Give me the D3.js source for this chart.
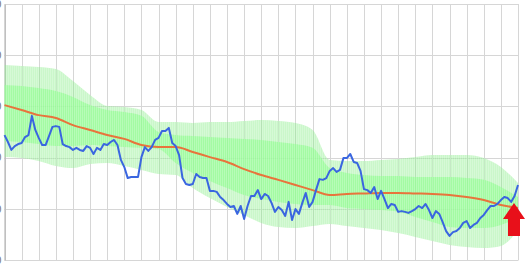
<!DOCTYPE html>
<html>
<head>
<meta charset="utf-8">
<script src="https://cdn.jsdelivr.net/npm/d3@7"></script>
<style>
  body { margin: 0; background: #fff; }
  svg { display: block; }
  .y-axis text { font-family: "DejaVu Sans", sans-serif; font-size: 10px; fill: #777; }
</style>
</head>
<body>
<div id="chart"></div>
<script>
// band knots every 10 days, price every 2 days
const bandDays = d3.range(0, 301, 10);
const center = [60.5, 58.6, 56.6, 55.5, 52.7, 50.8, 48.8, 47.3, 44.9, 44.1, 44.1, 42.2, 40.2, 38.3, 35.5, 33.2,
  31.3, 29.3, 27.3, 25.4, 25.8, 26.0, 26.2, 26.2, 26.0, 25.8, 25.4, 24.6, 23.4, 21.5, 20.3];
const outerHigh = [76.2, 75.8, 75.4, 74.6, 69.9, 64.5, 60.2, 59.8, 58.6, 53.9, 53.9, 53.5, 53.9, 53.9, 54.3, 54.7,
  54.3, 53.5, 50.8, 39.1, 38.7, 38.7, 39.1, 39.5, 40.2, 41.0, 41.0, 41.0, 39.8, 36.3, 30.1];
const innerHigh = [68.4, 68.0, 67.2, 66.0, 63.7, 60.5, 58.6, 57.8, 56.3, 50.0, 48.8, 48.4, 48.0, 47.7, 47.3, 46.9,
  46.1, 45.3, 43.8, 35.9, 34.0, 33.2, 32.8, 32.8, 32.4, 32.4, 32.4, 32.0, 31.3, 28.5, 24.6];
const innerLow = [46.5, 46.1, 45.3, 44.5, 44.5, 44.9, 44.5, 44.1, 43.8, 43.4, 37.9, 34.0, 30.9, 28.1, 25.4, 23.8,
  22.7, 21.9, 21.5, 21.5, 20.3, 19.9, 19.5, 18.8, 16.8, 14.8, 12.9, 12.5, 12.5, 13.7, 16.4];
const outerLow = [40.2, 39.8, 38.7, 36.7, 35.9, 37.5, 37.9, 36.7, 35.2, 33.6, 33.2, 28.1, 24.2, 20.7, 17.6, 14.5,
  12.9, 12.5, 13.3, 14.1, 13.3, 12.5, 11.7, 10.5, 9.0, 7.4, 5.9, 5.1, 4.7, 5.5, 11.7];

const priceDays = d3.range(0, 301, 2);
const price = [
  48.8, 46.1, 43.0, 44.5, 45.3, 45.7, 48.0, 48.8, 56.3, 50.8,
  47.7, 44.9, 44.9, 48.4, 52.0, 52.3, 52.0, 45.3, 44.5, 44.1,
  43.0, 43.8, 43.0, 42.6, 44.5, 43.8, 41.4, 43.8, 43.0, 45.3,
  44.9, 46.1, 46.9, 44.9, 39.1, 36.3, 32.0, 32.4, 32.4, 32.4,
  40.2, 44.1, 42.6, 44.1, 46.9, 47.7, 50.4, 50.4, 51.6, 45.7,
  44.5, 41.0, 32.0, 29.7, 29.3, 29.7, 33.6, 32.4, 32.0, 32.0,
  27.0, 27.0, 26.6, 24.6, 23.4, 21.9, 20.7, 21.1, 18.0, 21.1,
  16.0, 21.1, 25.0, 25.0, 27.3, 23.8, 25.8, 25.0, 22.3, 18.8,
  20.7, 19.5, 17.2, 22.7, 15.6, 19.9, 18.0, 22.3, 26.2, 20.7,
  22.7, 27.3, 31.6, 31.3, 32.0, 34.8, 35.9, 34.4, 35.2, 39.8,
  39.8, 41.4, 38.3, 37.9, 34.8, 27.7, 27.3, 26.2, 28.5, 23.8,
  27.0, 23.8, 20.3, 21.9, 21.5, 18.8, 19.1, 18.8, 18.4, 19.1,
  19.9, 21.1, 20.3, 21.9, 19.5, 16.4, 19.1, 18.0, 14.8, 11.3,
  9.4, 10.9, 11.3, 12.5, 14.5, 15.2, 12.5, 13.7, 14.5, 16.4,
  17.6, 19.5, 21.1, 21.1, 21.9, 23.4, 24.6, 24.2, 22.7, 25.0,
  29.3];

const yTicks = [0, 20, 40, 60, 80, 100];
const xTicks = d3.range(0, 301, 10);

const width = 526;
const height = 267;
const marginLeft = 4.5;
const marginRight = 8;
const marginTop = 4;
const marginBottom = 7;

const svg = d3.select('#chart')
  .append('svg')
    .attr('width', width)
    .attr('height', height);

const x = d3.scaleLinear()
  .domain([0, 300])
  .range([marginLeft, width - marginRight]);
const y = d3.scaleLinear()
  .domain([0, 100])
  .range([height - marginBottom, marginTop]);

const band = bandDays.map((d, i) => ({
  day: d, c: center[i], oh: outerHigh[i], ih: innerHigh[i], il: innerLow[i], ol: outerLow[i]
}));

// grid
svg.append('g')
  .selectAll('line')
  .data(xTicks)
  .join('line')
    .attr('x1', d => Math.round(x(d)) + 0.5)
    .attr('x2', d => Math.round(x(d)) + 0.5)
    .attr('y1', y(100))
    .attr('y2', y(0))
    .attr('stroke', '#d6d6d6');

svg.append('g')
  .selectAll('line')
  .data(yTicks)
  .join('line')
    .attr('x1', x(0))
    .attr('x2', x(300) + 0.5)
    .attr('y1', d => Math.round(y(d)) + 0.5)
    .attr('y2', d => Math.round(y(d)) + 0.5)
    .attr('stroke', '#d6d6d6');

svg.append('g')
  .attr('class', 'y-axis')
  .attr('transform', 'translate(4.5,0)')
  .call(d3.axisLeft(y).tickValues(yTicks).tickSize(0).tickSizeOuter(0).tickPadding(3))
  .call(g => g.select('.domain').attr('stroke', '#aaa'));

// thin vertical stripes over the bands
svg.append('defs')
  .append('pattern')
    .attr('id', 'stripes')
    .attr('patternUnits', 'userSpaceOnUse')
    .attr('width', 2)
    .attr('height', 4)
  .append('rect')
    .attr('width', 1)
    .attr('height', 4)
    .attr('fill', '#fff')
    .attr('opacity', 0.22);

const outerArea = d3.area()
  .x(d => x(d.day))
  .y0(d => y(d.ol))
  .y1(d => y(d.oh))
  .curve(d3.curveMonotoneX);
const innerArea = d3.area()
  .x(d => x(d.day))
  .y0(d => y(d.il))
  .y1(d => y(d.ih))
  .curve(d3.curveMonotoneX);

svg.append('path')
  .datum(band)
  .attr('d', outerArea)
  .attr('fill', '#90ee90')
  .attr('fill-opacity', 0.48);
svg.append('path')
  .datum(band)
  .attr('d', innerArea)
  .attr('fill', '#98fb98')
  .attr('fill-opacity', 0.8);
svg.append('path')
  .datum(band)
  .attr('d', outerArea)
  .attr('fill', 'url(#stripes)');

svg.append('path')
  .datum(band)
  .attr('d', d3.line().x(d => x(d.day)).y(d => y(d.c)).curve(d3.curveMonotoneX))
  .attr('fill', 'none')
  .attr('stroke', '#e8743c')
  .attr('stroke-width', 2);

svg.append('path')
  .datum(priceDays.map((d, i) => [d, price[i]]))
  .attr('d', d3.line().x(d => x(d[0])).y(d => y(d[1])))
  .attr('fill', 'none')
  .attr('stroke', '#3a66e0')
  .attr('stroke-width', 2)
  .attr('stroke-linejoin', 'round');

// red arrow under the last point of the center line
const tx = x(bandDays[bandDays.length - 1]) - 4;
const ty = y(center[center.length - 1]) - 5;
svg.append('path')
  .attr('d', `M${tx},${ty} L${tx + 11},${ty + 16} L${tx + 6},${ty + 16} L${tx + 6},${ty + 33}
    L${tx - 6},${ty + 33} L${tx - 6},${ty + 16} L${tx - 11},${ty + 16} Z`)
  .attr('fill', '#e8101a');
</script>
</body>
</html>
